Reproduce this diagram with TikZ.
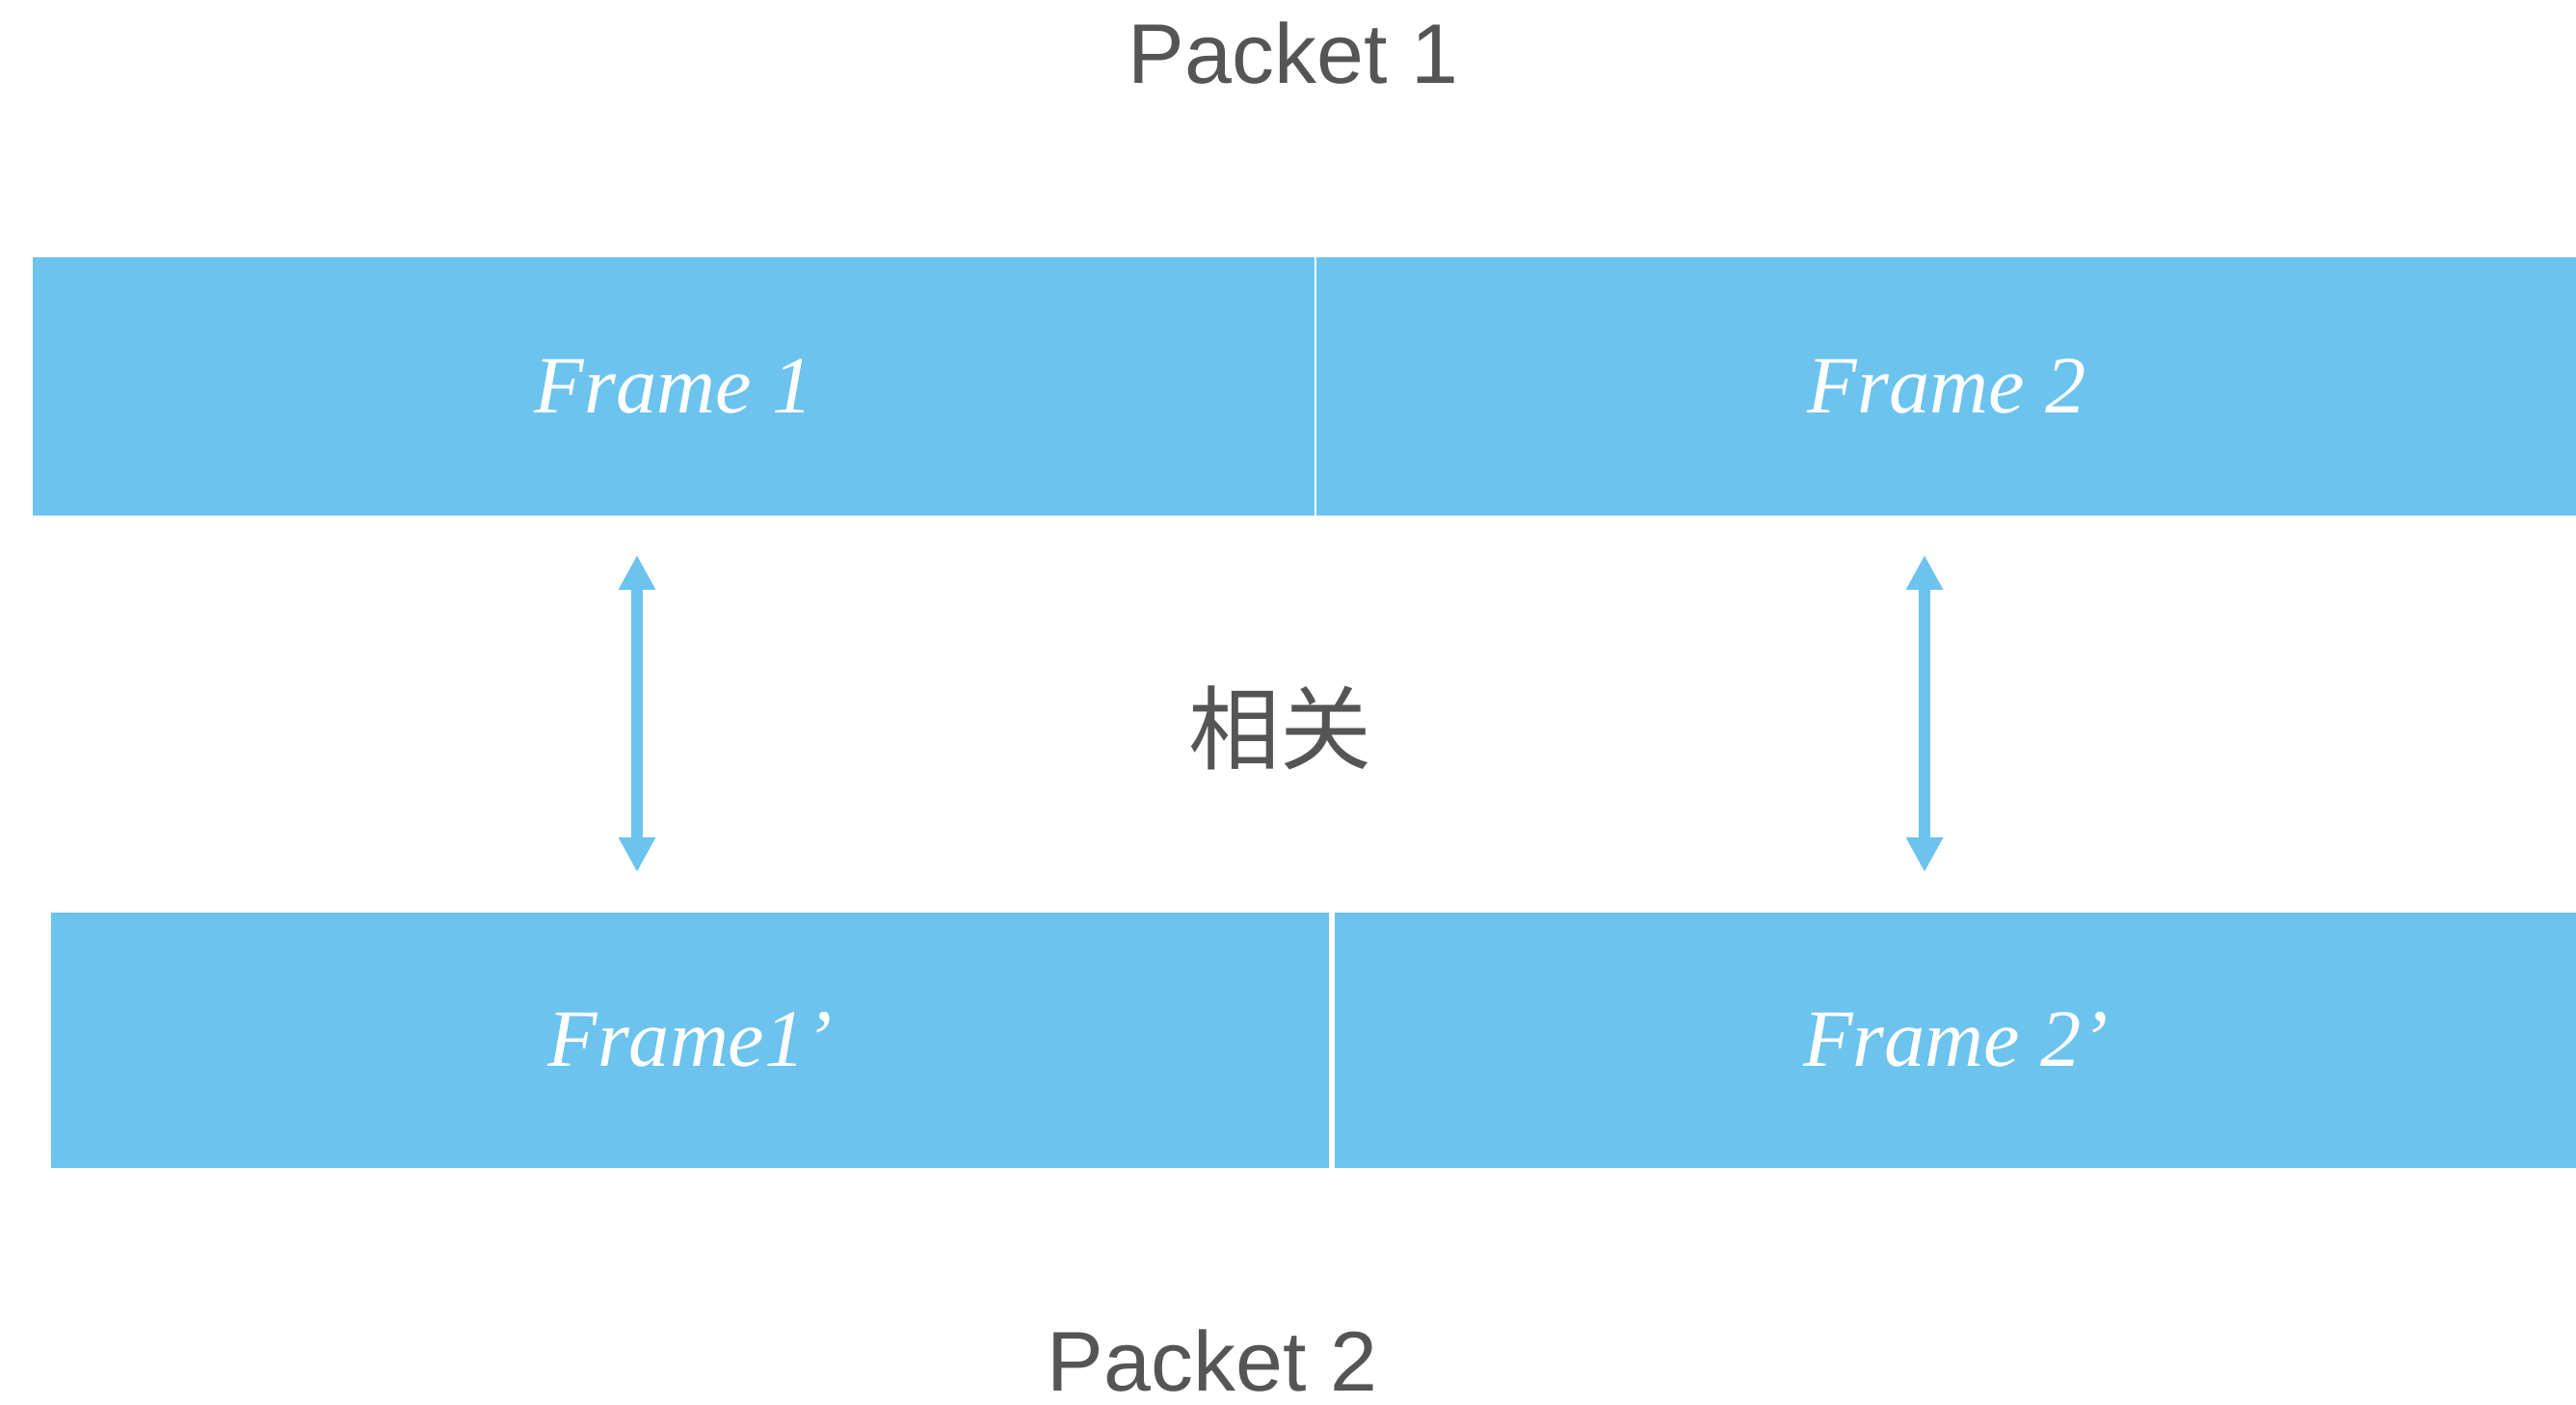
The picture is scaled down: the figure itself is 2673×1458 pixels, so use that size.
\documentclass[tikz,border=0pt]{standalone}
\usepackage{fontspec}
\usetikzlibrary{arrows.meta}
\newfontfamily\pkfont{Liberation Sans}
\newfontfamily\frfont{Liberation Serif}
\newfontfamily\cjkfont{Noto Sans CJK SC}
\definecolor{fblue}{HTML}{6BC3EE}
\definecolor{tgray}{HTML}{555555}
\begin{document}
\begin{tikzpicture}[x=0.01cm,y=-0.01cm,
  framebox/.style={rectangle, fill=fblue, inner sep=0pt, anchor=north west,
    text=white, font=\frfont\itshape\fontsize{24}{28}\selectfont},
  pktext/.style={text=tgray, inner sep=0pt, anchor=base, font=\pkfont\fontsize{25}{30}\selectfont},
  reltext/.style={text=tgray, inner sep=0pt, font=\cjkfont\fontsize{27}{32}\selectfont},
  dblarrow/.style={draw=fblue, line width=0.12cm, {Triangle[width=0.36cm,length=0.36cm]}-{Triangle[width=0.36cm,length=0.36cm]}}
]
\useasboundingbox (0,0) rectangle (2673,1458);
\node[framebox, minimum width=13.30cm, minimum height=2.68cm] (f1) at (33,266) {Frame 1};
\node[framebox, minimum width=13.08cm, minimum height=2.68cm] (f2) at (1365,266) {Frame 2};
\node[framebox, minimum width=13.26cm, minimum height=2.65cm] (f1p) at (52,946) {Frame1’};
\node[framebox, minimum width=12.89cm, minimum height=2.65cm] (f2p) at (1384,946) {Frame 2’};
\node[pktext] (p1) at (1342,87) {Packet 1};
\node[pktext] (p2) at (1258,1443) {Packet 2};
\node[reltext] (rel) at (1328,755) {相关};
\coordinate (a1t) at (661,576);
\coordinate (a1b) at (661,905);
\coordinate (a2t) at (1997,576);
\coordinate (a2b) at (1997,905);
\draw[dblarrow] (a1t) -- (a1b);
\draw[dblarrow] (a2t) -- (a2b);
\end{tikzpicture}
\end{document}
